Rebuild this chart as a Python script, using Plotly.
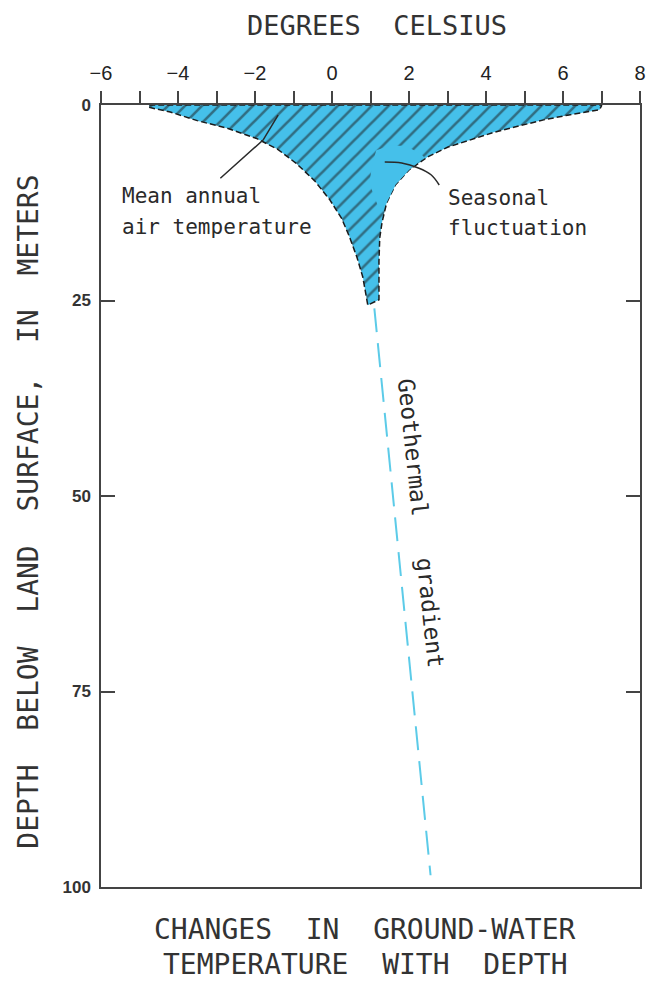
import plotly.graph_objects as go

# envelope of ground-water temperature (deg C) vs depth (m)
left_temp = [-4.75, -4.2, -3.5, -2.7, -1.95, -1.4, -0.92, -0.45, -0.06, 0.25, 0.45, 0.65, 0.80, 0.88, 0.93]
left_depth = [0.3, 0.9, 2.0, 3.0, 4.3, 5.7, 7.5, 9.7, 12.1, 14.5, 16.8, 19.5, 22.0, 24.0, 25.6]
right_temp = [1.22, 1.22, 1.24, 1.30, 1.42, 1.65, 2.0, 2.5, 3.0, 3.55, 4.2, 4.92, 5.5, 6.12, 6.6, 6.95, 7.0]
right_depth = [24.9, 20.0, 17.0, 15.0, 12.5, 10.2, 8.3, 6.6, 5.4, 4.5, 3.5, 2.6, 1.9, 1.3, 0.9, 0.6, 0.1]
top_temp = [7.0, -4.75]
top_depth = [0.0, 0.0]

# unhatched lobe near the seasonal fluctuation pointer
lobe_temp = [0.97, 1.05, 1.15, 1.5, 1.9, 2.3, 2.4, 2.0, 1.65, 1.42, 1.2]
lobe_depth = [10.0, 7.5, 5.8, 5.2, 5.2, 6.2, 6.7, 8.3, 10.2, 12.5, 13.0]

# geothermal gradient
geo_temp = [1.1, 2.56]
geo_depth = [26.0, 98.5]

# leader lines for labels
mean_ptr_temp = [-2.90, -1.79, -1.4]
mean_ptr_depth = [9.37, 4.48, 1.3]
seas_ptr_temp = [2.785, 2.58, 2.245, 1.81, 1.37]
seas_ptr_depth = [10.23, 8.95, 8.06, 7.42, 7.29]

x_ticks = [-6, -4, -2, 0, 2, 4, 6, 8]
y_ticks = [0, 25, 50, 75, 100]

BLUE = "#45c0ea"
INK = "#2a2a2a"
MONO = "DejaVu Sans Mono"

fig = go.Figure()

fig.add_trace(
    go.Scatter(
        x=left_temp + right_temp + top_temp,
        y=left_depth + right_depth + top_depth,
        mode="lines",
        fill="toself",
        fillpattern=dict(shape="/", bgcolor=BLUE, fgcolor="#1b1b1b", size=12, solidity=0.22),
        line=dict(color="#1b1b1b", width=1.5, dash="6px,3px"),
        hoverinfo="skip",
    )
)
fig.add_trace(
    go.Scatter(
        x=lobe_temp,
        y=lobe_depth,
        mode="lines",
        fill="toself",
        fillcolor=BLUE,
        line=dict(width=0),
        hoverinfo="skip",
    )
)
fig.add_trace(
    go.Scatter(
        x=geo_temp,
        y=geo_depth,
        mode="lines",
        line=dict(color="#5ccbe8", width=2, dash="24px,11px"),
        hoverinfo="skip",
    )
)
fig.add_trace(
    go.Scatter(
        x=mean_ptr_temp,
        y=mean_ptr_depth,
        mode="lines",
        line=dict(color=INK, width=1.5),
        hoverinfo="skip",
    )
)
fig.add_trace(
    go.Scatter(
        x=seas_ptr_temp,
        y=seas_ptr_depth,
        mode="lines",
        line=dict(color=INK, width=1.5, shape="spline"),
        hoverinfo="skip",
    )
)

label_font = dict(family=MONO, size=21, color=INK)
fig.add_annotation(x=-5.5, y=11.6, text="Mean annual", xanchor="left", yanchor="middle",
                   showarrow=False, font=label_font)
fig.add_annotation(x=-5.5, y=15.6, text="air temperature", xanchor="left", yanchor="middle",
                   showarrow=False, font=label_font)
fig.add_annotation(x=2.96, y=11.9, text="Seasonal", xanchor="left", yanchor="middle",
                   showarrow=False, font=label_font)
fig.add_annotation(x=2.96, y=15.7, text="fluctuation", xanchor="left", yanchor="middle",
                   showarrow=False, font=label_font)
fig.add_annotation(x=2.3, y=53.5, text="Geothermal\u00a0\u00a0 gradient", textangle=84,
                   showarrow=False, font=dict(family=MONO, size=23, color=INK))

title_font = dict(family=MONO, size=28, color="#333333")
fig.add_annotation(xref="paper", yref="paper", x=0.512, y=1.102, text="DEGREES\u00a0 CELSIUS",
                   showarrow=False, xanchor="center", yanchor="middle",
                   font=dict(family=MONO, size=27, color="#333333"))
fig.add_annotation(xref="paper", yref="paper", x=0.49, y=-0.054,
                   text="CHANGES\u00a0 IN\u00a0 GROUND-WATER",
                   showarrow=False, xanchor="center", yanchor="middle", font=title_font)
fig.add_annotation(xref="paper", yref="paper", x=0.49, y=-0.099,
                   text="TEMPERATURE\u00a0 WITH\u00a0 DEPTH",
                   showarrow=False, xanchor="center", yanchor="middle", font=title_font)
fig.add_annotation(xref="paper", yref="paper", x=-0.136, y=0.4795,
                   text="DEPTH\u00a0 BELOW\u00a0 LAND\u00a0 SURFACE,\u00a0 IN\u00a0 METERS",
                   textangle=-90, showarrow=False, xanchor="center", yanchor="middle",
                   font=title_font)

# page body adds an 8px offset, so the figure is 8px smaller and margins shifted
fig.update_layout(
    width=646,
    height=975,
    autosize=False,
    showlegend=False,
    plot_bgcolor="white",
    paper_bgcolor="white",
    margin=dict(l=93, r=8, t=97, b=96),
    xaxis=dict(
        range=[-6, 8],
        side="top",
        tickvals=x_ticks,
        ticks="outside",
        ticklen=12,
        tickwidth=1.5,
        tickcolor="#444",
        ticklabelstandoff=3,
        minor=dict(dtick=1, ticks="outside", ticklen=12, tickwidth=1.5, tickcolor="#444"),
        showline=True,
        linecolor="#444",
        linewidth=1.5,
        mirror=True,
        showgrid=False,
        zeroline=False,
        tickfont=dict(family="Liberation Sans", size=20, color="#222"),
    ),
    xaxis2=dict(
        range=[-6, 8],
        overlaying="x",
        anchor="y",
        side="bottom",
        tickvals=list(range(-5, 8)),
        ticks="inside",
        ticklen=14,
        tickwidth=1.5,
        tickcolor="#444",
        showticklabels=False,
        showline=False,
        showgrid=False,
        zeroline=False,
    ),
    yaxis=dict(
        range=[100, 0],
        tickvals=y_ticks,
        ticks="inside",
        ticklen=14,
        tickwidth=1.5,
        tickcolor="#444",
        ticklabelstandoff=5,
        showline=True,
        linecolor="#444",
        linewidth=1.5,
        mirror="ticks",
        showgrid=False,
        zeroline=False,
        tickfont=dict(family="Liberation Sans", size=17, color="#333", weight="bold"),
    ),
)

fig.write_html("out.html")
